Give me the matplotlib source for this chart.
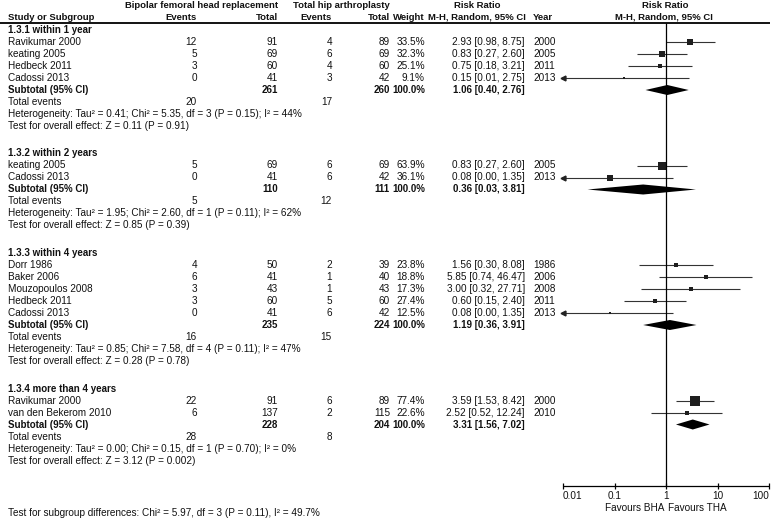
import numpy as np
import matplotlib
matplotlib.use("Agg")
import matplotlib.pyplot as plt

plt.rcParams['font.family'] = ['Liberation Sans', 'DejaVu Sans']
FS = 7.2
FSB = 7.0   # negrita en filas
FSH = 6.8   # negrita en cabecera

# datos de la figura (por subgrupo)
groups = ["1.3.1 within 1 year", "1.3.2 within 2 years",
          "1.3.3 within 4 years", "1.3.4 more than 4 years"]
studies = [["Ravikumar 2000", "keating 2005", "Hedbeck 2011", "Cadossi 2013"],
           ["keating 2005", "Cadossi 2013"],
           ["Dorr 1986", "Baker 2006", "Mouzopoulos 2008", "Hedbeck 2011", "Cadossi 2013"],
           ["Ravikumar 2000", "van den Bekerom 2010"]]
bha_ev = [[12, 5, 3, 0], [5, 0], [4, 6, 3, 3, 0], [22, 6]]
bha_n = [[91, 69, 60, 41], [69, 41], [50, 41, 43, 60, 41], [91, 137]]
tha_ev = [[4, 6, 4, 3], [6, 6], [2, 1, 1, 5, 6], [6, 2]]
tha_n = [[89, 69, 60, 42], [69, 42], [39, 40, 43, 60, 42], [89, 115]]
weight = [[33.5, 32.3, 25.1, 9.1], [63.9, 36.1], [23.8, 18.8, 17.3, 27.4, 12.5], [77.4, 22.6]]
rr = [[2.93, 0.83, 0.75, 0.15], [0.83, 0.08], [1.56, 5.85, 3.00, 0.60, 0.08], [3.59, 2.52]]
rr_lo = [[0.98, 0.27, 0.18, 0.01], [0.27, 0.00], [0.30, 0.74, 0.32, 0.15, 0.00], [1.53, 0.52]]
rr_hi = [[8.75, 2.60, 3.21, 2.75], [2.60, 1.35], [8.08, 46.47, 27.71, 2.40, 1.35], [8.42, 12.24]]
year = [[2000, 2005, 2011, 2013], [2005, 2013], [1986, 2006, 2008, 2011, 2013], [2000, 2010]]

sub_bha_n = [261, 110, 235, 228]
sub_tha_n = [260, 111, 224, 204]
sub_rr = [1.06, 0.36, 1.19, 3.31]
sub_lo = [0.40, 0.03, 0.36, 1.56]
sub_hi = [2.76, 3.81, 3.91, 7.02]
tot_bha = [20, 5, 16, 28]
tot_tha = [17, 12, 15, 8]
het = ["Tau\u00b2 = 0.41; Chi\u00b2 = 5.35, df = 3 (P = 0.15); I\u00b2 = 44%",
       "Tau\u00b2 = 1.95; Chi\u00b2 = 2.60, df = 1 (P = 0.11); I\u00b2 = 62%",
       "Tau\u00b2 = 0.85; Chi\u00b2 = 7.58, df = 4 (P = 0.11); I\u00b2 = 47%",
       "Tau\u00b2 = 0.00; Chi\u00b2 = 0.15, df = 1 (P = 0.70); I\u00b2 = 0%"]
overall = ["Z = 0.11 (P = 0.91)", "Z = 0.85 (P = 0.39)",
           "Z = 0.28 (P = 0.78)", "Z = 3.12 (P = 0.002)"]
subgroup_test = "Chi\u00b2 = 5.97, df = 3 (P = 0.11), I\u00b2 = 49.7%"
ticks = [0.01, 0.1, 1, 10, 100]
tick_labels = ["0.01", "0.1", "1", "10", "100"]

W, H = 778, 518
fig = plt.figure(figsize=(W / 100, H / 100), dpi=100)
ax_t = fig.add_axes([0, 0, 1, 1])
ax_t.set_xlim(0, W)
ax_t.set_ylim(H, 0)
ax_t.axis('off')

x0, x1 = 563, 769
ax = fig.add_axes([x0 / W, 0, (x1 - x0) / W, 1])
ax.set_xscale('log')
ax.set_xlim(0.01, 100)
ax.set_ylim(H, 0)
ax.axis('off')

# columnas
cx_study, cx_ev1, cx_n1, cx_ev2, cx_n2, cx_wt, cx_ci, cx_yr = 8, 197, 278, 332, 390, 425, 525, 533


def txt(x, y, s, ha='left', bold=False, size=None):
    if size is None:
        size = FSB if bold else FS
    ax_t.text(x, y, s, ha=ha, va='center', fontsize=size,
              fontweight='bold' if bold else 'normal', color='#111111')


def head(x, y, s, ha='left'):
    txt(x, y, s, ha, True, FSH)


# cabecera
head(cx_n1, 5, "Bipolar femoral head replacement", 'right')
head(cx_n2, 5, "Total hip arthroplasty", 'right')
head(477, 5, "Risk Ratio", 'center')
head(665, 5, "Risk Ratio", 'center')
head(cx_study, 17, "Study or Subgroup")
head(cx_ev1, 17, "Events", 'right')
head(cx_n1, 17, "Total", 'right')
head(cx_ev2, 17, "Events", 'right')
head(cx_n2, 17, "Total", 'right')
head(cx_wt, 17, "Weight", 'right')
head(477, 17, "M-H, Random, 95% CI", 'center')
head(cx_yr, 17, "Year")
head(664, 17, "M-H, Random, 95% CI", 'center')
ax_t.hlines(23, 0, 770, color='black', lw=1.3)

step, gap = 12, 27.5
y = 30
for g in range(len(groups)):
    txt(cx_study, y, groups[g], bold=True)
    for i in range(len(studies[g])):
        y += step
        txt(cx_study, y, studies[g][i])
        txt(cx_ev1, y, str(bha_ev[g][i]), 'right')
        txt(cx_n1, y, str(bha_n[g][i]), 'right')
        txt(cx_ev2, y, str(tha_ev[g][i]), 'right')
        txt(cx_n2, y, str(tha_n[g][i]), 'right')
        txt(cx_wt, y, f"{weight[g][i]:.1f}%", 'right')
        txt(cx_ci, y, f"{rr[g][i]:.2f} [{rr_lo[g][i]:.2f}, {rr_hi[g][i]:.2f}]", 'right')
        txt(cx_yr, y, str(year[g][i]))
        lo = max(rr_lo[g][i], 0.01)
        ax.plot([lo, rr_hi[g][i]], [y, y], color='#333333', lw=0.8,
                solid_capstyle='butt', clip_on=False)
        if rr_lo[g][i] <= 0.01:
            ax.plot([0.01], [y], marker='<', ms=3.5, color='#222222', clip_on=False)
        side = (1.5 + 0.11 * weight[g][i]) * 0.72
        ax.plot([rr[g][i]], [y], marker='s', ms=side, color='#1e1e1e', mew=0, clip_on=False)
    y += step
    txt(cx_study, y, "Subtotal (95% CI)", bold=True)
    txt(cx_n1, y, str(sub_bha_n[g]), 'right', True)
    txt(cx_n2, y, str(sub_tha_n[g]), 'right', True)
    txt(cx_wt, y, "100.0%", 'right', True)
    txt(cx_ci, y, f"{sub_rr[g]:.2f} [{sub_lo[g]:.2f}, {sub_hi[g]:.2f}]", 'right', True)
    ax.fill([sub_lo[g], sub_rr[g], sub_hi[g], sub_rr[g]], [y, y - 5, y, y + 5],
            color='black', lw=0, clip_on=False)
    y += step
    txt(cx_study, y, "Total events")
    txt(cx_ev1, y, str(tot_bha[g]), 'right')
    txt(cx_ev2, y, str(tot_tha[g]), 'right')
    y += step
    txt(cx_study, y, "Heterogeneity: " + het[g])
    y += step
    txt(cx_study, y, "Test for overall effect: " + overall[g])
    y += gap

# eje del forest plot
ax.vlines(1, 23, 486, color='black', lw=0.9)
ax.hlines(486, 0.01, 100, color='black', lw=0.9, clip_on=False)
ax.vlines(ticks, 483, 489, color='black', lw=0.9, clip_on=False)
for k, t in enumerate(ticks):
    ha = 'left' if k == 0 else ('right' if k == len(ticks) - 1 else 'center')
    ax.text(t, 496, tick_labels[k], ha=ha, va='center', fontsize=FS, color='#111111')
ax.text(0.92, 508, "Favours BHA", ha='right', va='center', fontsize=FS, color='#111111')
ax.text(1.09, 508, "Favours THA", ha='left', va='center', fontsize=FS, color='#111111')

txt(cx_study, 513, "Test for subgroup differences: " + subgroup_test)

fig.savefig("out.png", dpi=100)
